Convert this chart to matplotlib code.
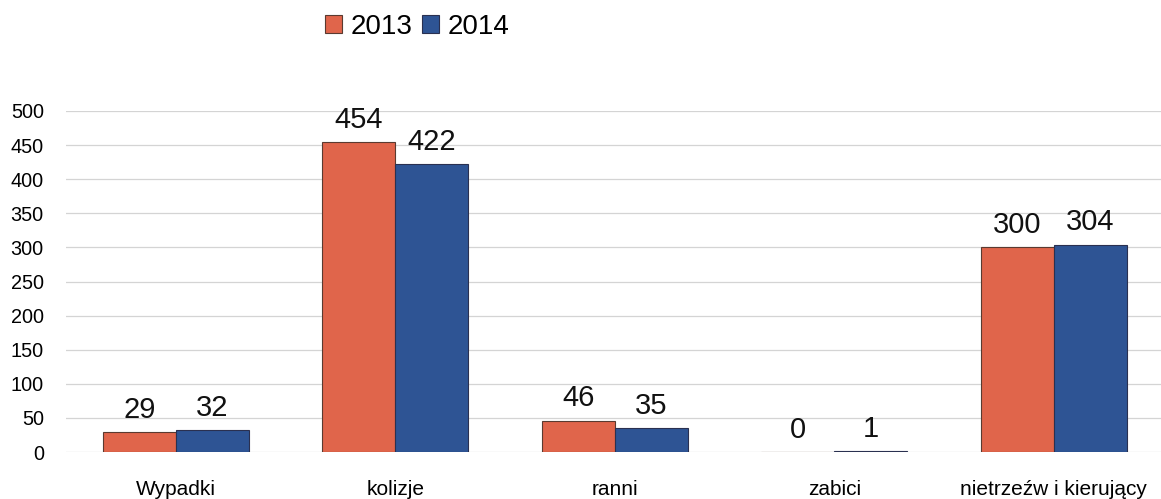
import matplotlib
matplotlib.use("Agg")
import matplotlib.pyplot as plt
import numpy as np

plt.rcParams['font.family'] = ['Liberation Sans', 'DejaVu Sans']

categories = ["Wypadki", "kolizje", "ranni", "zabici", "nietrzeźw i kierujący"]
values_2013 = [29, 454, 46, 0, 300]
values_2014 = [32, 422, 35, 1, 304]
series_names = ["2013", "2014"]
yticks = [0, 50, 100, 150, 200, 250, 300, 350, 400, 450, 500]

W, H = 1161, 499
fig = plt.figure(figsize=(W/100, H/100), dpi=100)
left_px, bottom_px, top_px = 66, 47, 388
ax = fig.add_axes([left_px/W, bottom_px/H, (W-left_px)/W, (top_px-bottom_px)/H])

x = np.arange(len(categories))
bw = 0.333
c13 = "#E0654B"
c14 = "#2E5494"
b1 = ax.bar(x - bw/2, values_2013, bw, color=c13, edgecolor="#5a3a30", linewidth=0.8, label=series_names[0])
b2 = ax.bar(x + bw/2, values_2014, bw, color=c14, edgecolor="#2a3050", linewidth=0.8, label=series_names[1])

for xs, vals in ((x - bw/2, values_2013), (x + bw/2, values_2014)):
    for xi, v in zip(xs, vals):
        ax.text(xi, v + 12, str(v), ha="center", va="bottom", fontsize=21, color="#111111", clip_on=False)

ax.set_xlim(-0.5, -0.5 + (W-left_px)/219.5)
ax.set_ylim(0, 500)
ax.set_yticks(yticks)
ax.set_yticklabels([str(t) for t in yticks], fontsize=14.3)
ax.tick_params(axis="y", length=0, pad=16)
ax.set_xticks(x)
ax.set_xticklabels(categories, fontsize=15)
ax.tick_params(axis="x", length=0, pad=20)
ax.yaxis.grid(True, color="#d4d4d4", linewidth=0.9)
ax.set_axisbelow(True)
for s in ax.spines.values():
    s.set_visible(False)

fig.legend(handles=[b1, b2], labels=series_names, loc="center left", bbox_to_anchor=(325/W, 1 - 27/H),
           ncol=2, frameon=False, fontsize=20, handlelength=0.62, handleheight=0.62,
           handletextpad=0.3, columnspacing=0.35, borderaxespad=0, borderpad=0)

fig.savefig("out.png", dpi=100, facecolor="white")
